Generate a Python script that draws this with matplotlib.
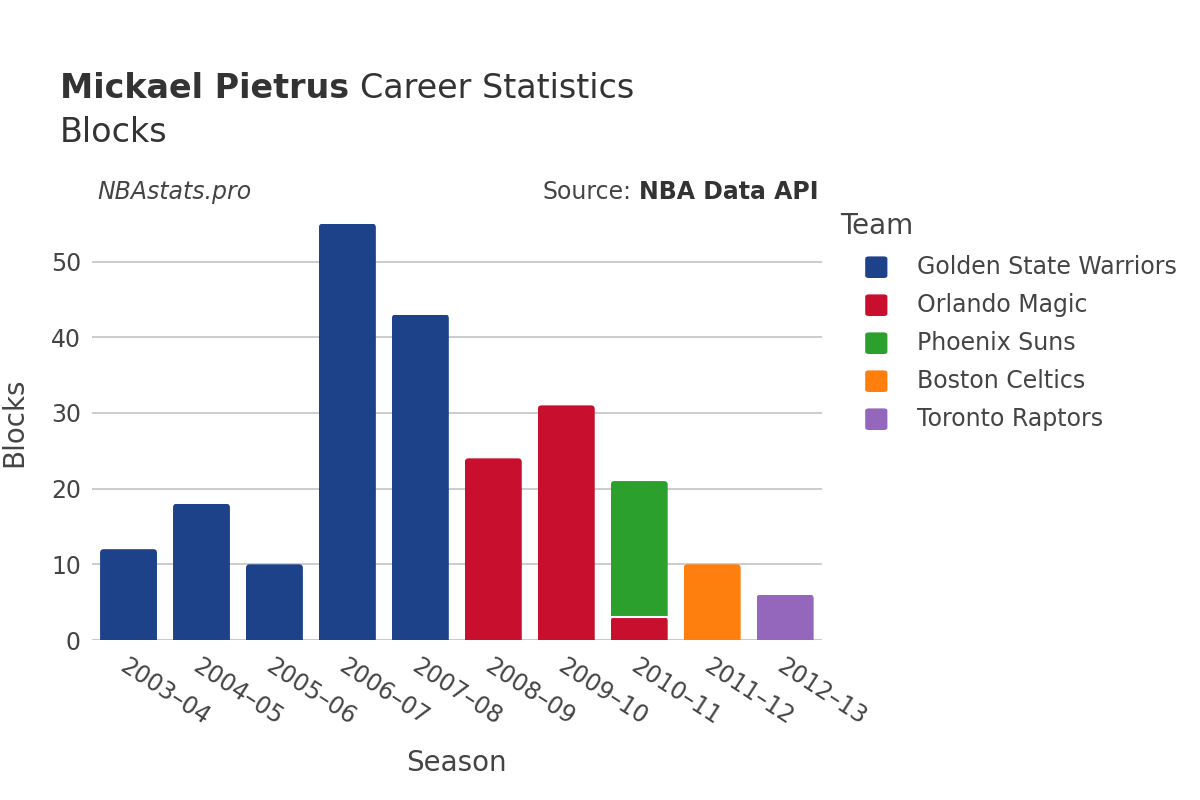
import matplotlib.pyplot as plt
import numpy as np
from matplotlib.patches import FancyBboxPatch, Rectangle

seasons = ["2003–04", "2004–05", "2005–06", "2006–07", "2007–08",
           "2008–09", "2009–10", "2010–11", "2011–12", "2012–13"]
teams = ["Golden State Warriors", "Orlando Magic", "Phoenix Suns",
         "Boston Celtics", "Toronto Raptors"]
team_colors = ["#1d428a", "#c8102e", "#2ca02c", "#ff7f0e", "#9467bd"]

gsw = [12, 18, 10, 55, 43, 0, 0, 0, 0, 0]
orl = [0, 0, 0, 0, 0, 24, 31, 3, 0, 0]
phx = [0, 0, 0, 0, 0, 0, 0, 18, 0, 0]
bos = [0, 0, 0, 0, 0, 0, 0, 0, 10, 0]
tor = [0, 0, 0, 0, 0, 0, 0, 0, 0, 6]
series = [gsw, orl, phx, bos, tor]

txt = "#444444"
plt.rcParams["font.family"] = ["DejaVu Sans"]

fig = plt.figure(figsize=(12, 8), dpi=100)
ax = fig.add_axes([0.0767, 0.2, 0.608, 0.544])

x = np.arange(len(seasons))
w = 0.78
ext = 2.0  # rounded box runs below the segment, then gets clipped -> square bottom
bottom = np.zeros(len(seasons))
for vals, col in zip(series, team_colors):
    vals = np.array(vals, dtype=float)
    for xi, b, v in zip(x, bottom, vals):
        if v <= 0:
            continue
        p = ax.add_patch(FancyBboxPatch((xi - w / 2, b - ext), w, v + ext,
                                        boxstyle="round,pad=0,rounding_size=0.05",
                                        mutation_aspect=10,
                                        facecolor=col, edgecolor="none"))
        clip = Rectangle((xi - w / 2, b), w, v, transform=ax.transData)
        p.set_clip_path(clip)
        if b > 0:
            ax.plot([xi - w / 2, xi + w / 2], [b, b], color="white", linewidth=1.5,
                    solid_capstyle="butt")
    bottom += vals

ax.set_xlim(-0.5, len(seasons) - 0.5)
ax.set_ylim(0, 57.5)
ax.set_yticks([0, 10, 20, 30, 40, 50])
ax.yaxis.grid(True, color="#c4c4c4", linewidth=1.2)
ax.set_axisbelow(True)
for s in ax.spines.values():
    s.set_visible(False)
ax.axhline(0, color="#e6e6ee", linewidth=2, zorder=0.5)
ax.tick_params(axis="both", length=0, colors=txt, labelsize=17)
ax.tick_params(axis="y", pad=8)
ax.set_xticks(x)
ax.set_xticklabels(seasons, rotation=-33, ha="left", rotation_mode="anchor")
ax.tick_params(axis="x", pad=10)
ax.set_xlabel("Season", fontsize=20, color=txt, labelpad=14)
ax.set_ylabel("Blocks", fontsize=20, color=txt, labelpad=16)

fig.canvas.draw()
r = fig.canvas.get_renderer()
t1 = fig.text(0.05, 0.89, "Mickael Pietrus", fontsize=24, fontweight="bold", color="#333333", va="center")
bb = t1.get_window_extent(renderer=r)
fig.text(bb.x1 / fig.bbox.width + 0.009, 0.89, "Career Statistics", fontsize=24, color="#333333", va="center")
fig.text(0.05, 0.835, "Blocks", fontsize=24, color="#333333", va="center")
fig.text(0.081, 0.76, "NBAstats.pro", fontsize=17, style="italic", color=txt, va="center")
t2 = fig.text(0.682, 0.76, "NBA Data API", fontsize=17, fontweight="bold", color="#333333", va="center", ha="right")
bb2 = t2.get_window_extent(renderer=r)
fig.text(bb2.x0 / fig.bbox.width - 0.006, 0.76, "Source:", fontsize=17, color=txt, va="center", ha="right")

fig.text(0.7, 0.717, "Team", fontsize=20, color=txt, va="center")
for i, (t, c) in enumerate(zip(teams, team_colors)):
    yy = 0.666 - i * 0.0475
    fig.patches.append(FancyBboxPatch((0.721, yy - 0.0135), 0.0185, 0.027,
                                      boxstyle="round,pad=0,rounding_size=0.003",
                                      transform=fig.transFigure, figure=fig,
                                      facecolor=c, edgecolor="none"))
    fig.text(0.764, yy, t, fontsize=17, color=txt, va="center")

fig.savefig("out.png", dpi=100)
